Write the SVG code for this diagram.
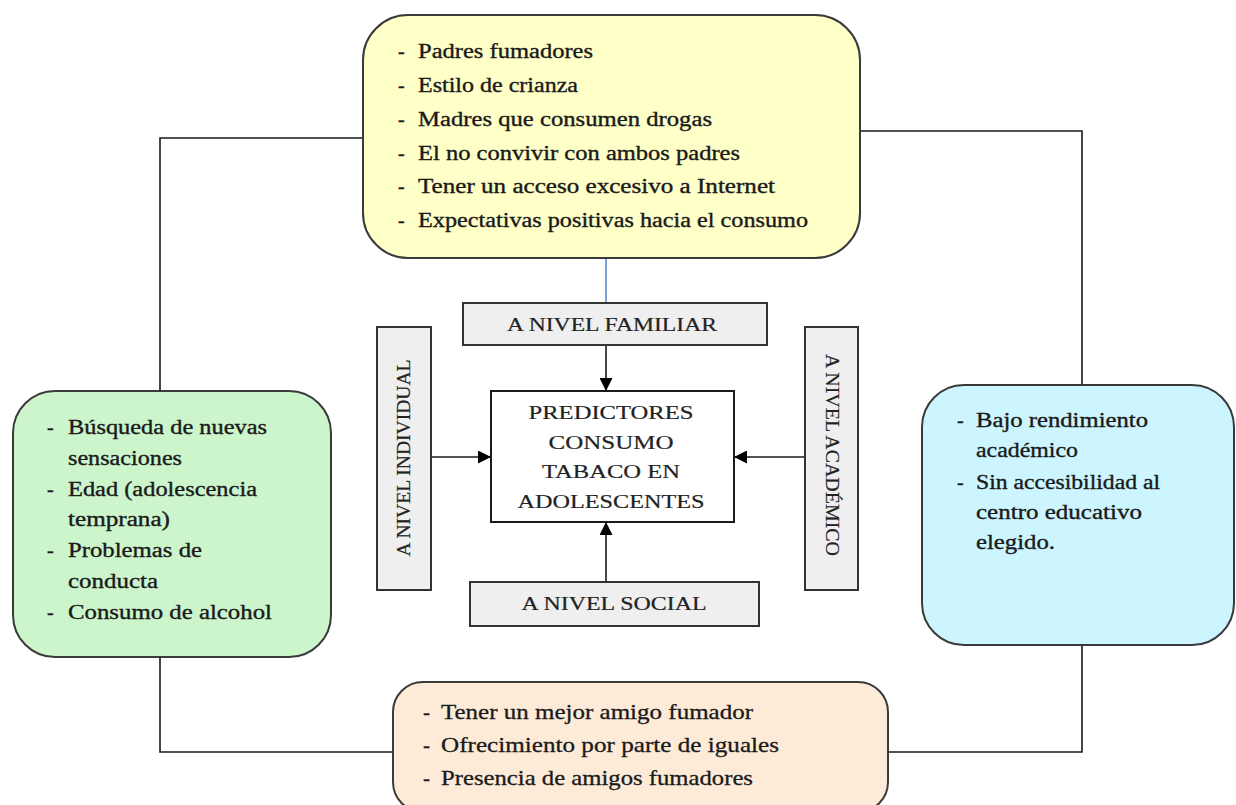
<svg xmlns="http://www.w3.org/2000/svg" width="1236" height="805" viewBox="0 0 1236 805">
<defs>
<marker id="ah" viewBox="0 0 10 10" refX="10" refY="5" markerWidth="13" markerHeight="13" markerUnits="userSpaceOnUse" orient="auto">
<path d="M0,0 L10,5 L0,10 z" fill="#000"/>
</marker>
<style>
.t{font-family:"Liberation Serif","Times New Roman",serif;font-size:20px;fill:#1a1a1a;stroke:#1a1a1a;stroke-width:0.35}
.tb{font-family:"Liberation Serif","Times New Roman",serif;font-size:21px;fill:#1a1a1a;stroke:#1a1a1a;stroke-width:0.3}
.lb{font-family:"Liberation Serif","Times New Roman",serif;font-size:19px;fill:#222;text-anchor:middle;stroke:#222;stroke-width:0.2}
.box{stroke:#3a3a3a;stroke-width:2}
.lab{fill:#efefef;stroke:#333;stroke-width:2}
.con{fill:none;stroke:#1a1a1a;stroke-width:1.6}
</style>
</defs>
<rect width="1236" height="805" fill="#fff"/>
<g id="connectors">
<polyline class="con" points="365,138 160,138 160,392"/>
<polyline class="con" points="858,131 1082,131 1082,385"/>
<polyline class="con" points="160,657 160,752 393,752"/>
<polyline class="con" points="1082,645 1082,752 888,752"/>
<line x1="606" y1="258" x2="606" y2="303" stroke="#5b8fd0" stroke-width="1.6"/>
<line class="con" x1="606" y1="345" x2="606" y2="391" marker-end="url(#ah)"/>
<line class="con" x1="606" y1="582" x2="606" y2="522" marker-end="url(#ah)"/>
<line class="con" x1="431" y1="457" x2="491" y2="457" marker-end="url(#ah)"/>
<line class="con" x1="805" y1="457" x2="734" y2="457" marker-end="url(#ah)"/>
</g>
<g id="familiar-box">
<rect class="box" x="363" y="15" width="497" height="243" rx="45" fill="#ffffc8"/>
<g class="t">
<text x="398" y="58">-</text><text x="418" y="58" textLength="175" lengthAdjust="spacingAndGlyphs">Padres fumadores</text>
<text x="398" y="92">-</text><text x="418" y="92" textLength="160" lengthAdjust="spacingAndGlyphs">Estilo de crianza</text>
<text x="398" y="126">-</text><text x="418" y="126" textLength="294" lengthAdjust="spacingAndGlyphs">Madres que consumen drogas</text>
<text x="398" y="160">-</text><text x="418" y="160" textLength="322" lengthAdjust="spacingAndGlyphs">El no convivir con ambos padres</text>
<text x="398" y="193">-</text><text x="418" y="193" textLength="357" lengthAdjust="spacingAndGlyphs">Tener un acceso excesivo a Internet</text>
<text x="398" y="227">-</text><text x="418" y="227" textLength="390" lengthAdjust="spacingAndGlyphs">Expectativas positivas hacia el consumo</text>
</g>
</g>
<g id="individual-box">
<rect class="box" x="13" y="391" width="318" height="266" rx="42" fill="#ccf5cc"/>
<g class="t">
<text x="47" y="434">-</text><text x="68" y="434" textLength="199" lengthAdjust="spacingAndGlyphs">Búsqueda de nuevas</text>
<text x="68" y="465" textLength="114" lengthAdjust="spacingAndGlyphs">sensaciones</text>
<text x="47" y="496">-</text><text x="68" y="496" textLength="189" lengthAdjust="spacingAndGlyphs">Edad (adolescencia</text>
<text x="68" y="526" textLength="102" lengthAdjust="spacingAndGlyphs">temprana)</text>
<text x="47" y="557">-</text><text x="68" y="557" textLength="134" lengthAdjust="spacingAndGlyphs">Problemas de</text>
<text x="68" y="588" textLength="90" lengthAdjust="spacingAndGlyphs">conducta</text>
<text x="47" y="619">-</text><text x="68" y="619" textLength="204" lengthAdjust="spacingAndGlyphs">Consumo de alcohol</text>
</g>
</g>
<g id="academico-box">
<rect class="box" x="922" y="385" width="312" height="260" rx="42" fill="#ccf5ff"/>
<g class="t">
<text x="957" y="427">-</text><text x="976" y="427" textLength="172" lengthAdjust="spacingAndGlyphs">Bajo rendimiento</text>
<text x="976" y="457" textLength="102" lengthAdjust="spacingAndGlyphs">académico</text>
<text x="957" y="489">-</text><text x="976" y="489" textLength="184" lengthAdjust="spacingAndGlyphs">Sin accesibilidad al</text>
<text x="976" y="519" textLength="166" lengthAdjust="spacingAndGlyphs">centro educativo</text>
<text x="976" y="549" textLength="79" lengthAdjust="spacingAndGlyphs">elegido.</text>
</g>
</g>
<g id="social-box">
<rect class="box" x="393" y="682" width="495" height="130" rx="30" fill="#fdebd8"/>
<g class="tb">
<text x="423" y="719">-</text><text x="441" y="719" textLength="312" lengthAdjust="spacingAndGlyphs">Tener un mejor amigo fumador</text>
<text x="423" y="752">-</text><text x="441" y="752" textLength="338" lengthAdjust="spacingAndGlyphs">Ofrecimiento por parte de iguales</text>
<text x="423" y="785">-</text><text x="441" y="785" textLength="312" lengthAdjust="spacingAndGlyphs">Presencia de amigos fumadores</text>
</g>
</g>
<g id="label-familiar">
<rect class="lab" x="463" y="303" width="304" height="42"/>
<text class="lb" x="612" y="331" textLength="210" lengthAdjust="spacingAndGlyphs">A NIVEL FAMILIAR</text>
</g>
<g id="label-social">
<rect class="lab" x="470" y="582" width="289" height="44"/>
<text class="lb" x="614" y="610" textLength="185" lengthAdjust="spacingAndGlyphs">A NIVEL SOCIAL</text>
</g>
<g id="label-individual">
<rect class="lab" x="377" y="327" width="54" height="263"/>
<text class="lb" transform="translate(410,458) rotate(-90)" x="0" y="0" textLength="197" lengthAdjust="spacingAndGlyphs">A NIVEL INDIVIDUAL</text>
</g>
<g id="label-academico">
<rect class="lab" x="805" y="327" width="53" height="263"/>
<text class="lb" transform="translate(826,455) rotate(90)" x="0" y="0" textLength="202" lengthAdjust="spacingAndGlyphs">A NIVEL ACADÉMICO</text>
</g>
<g id="center-node">
<rect x="491" y="391" width="243" height="131" fill="#fff" stroke="#1a1a1a" stroke-width="2"/>
<text class="lb" x="611" y="419" textLength="165" lengthAdjust="spacingAndGlyphs">PREDICTORES</text>
<text class="lb" x="611" y="449" textLength="125" lengthAdjust="spacingAndGlyphs">CONSUMO</text>
<text class="lb" x="611" y="478" textLength="138" lengthAdjust="spacingAndGlyphs">TABACO EN</text>
<text class="lb" x="611" y="508" textLength="187" lengthAdjust="spacingAndGlyphs">ADOLESCENTES</text>
</g>
</svg>
